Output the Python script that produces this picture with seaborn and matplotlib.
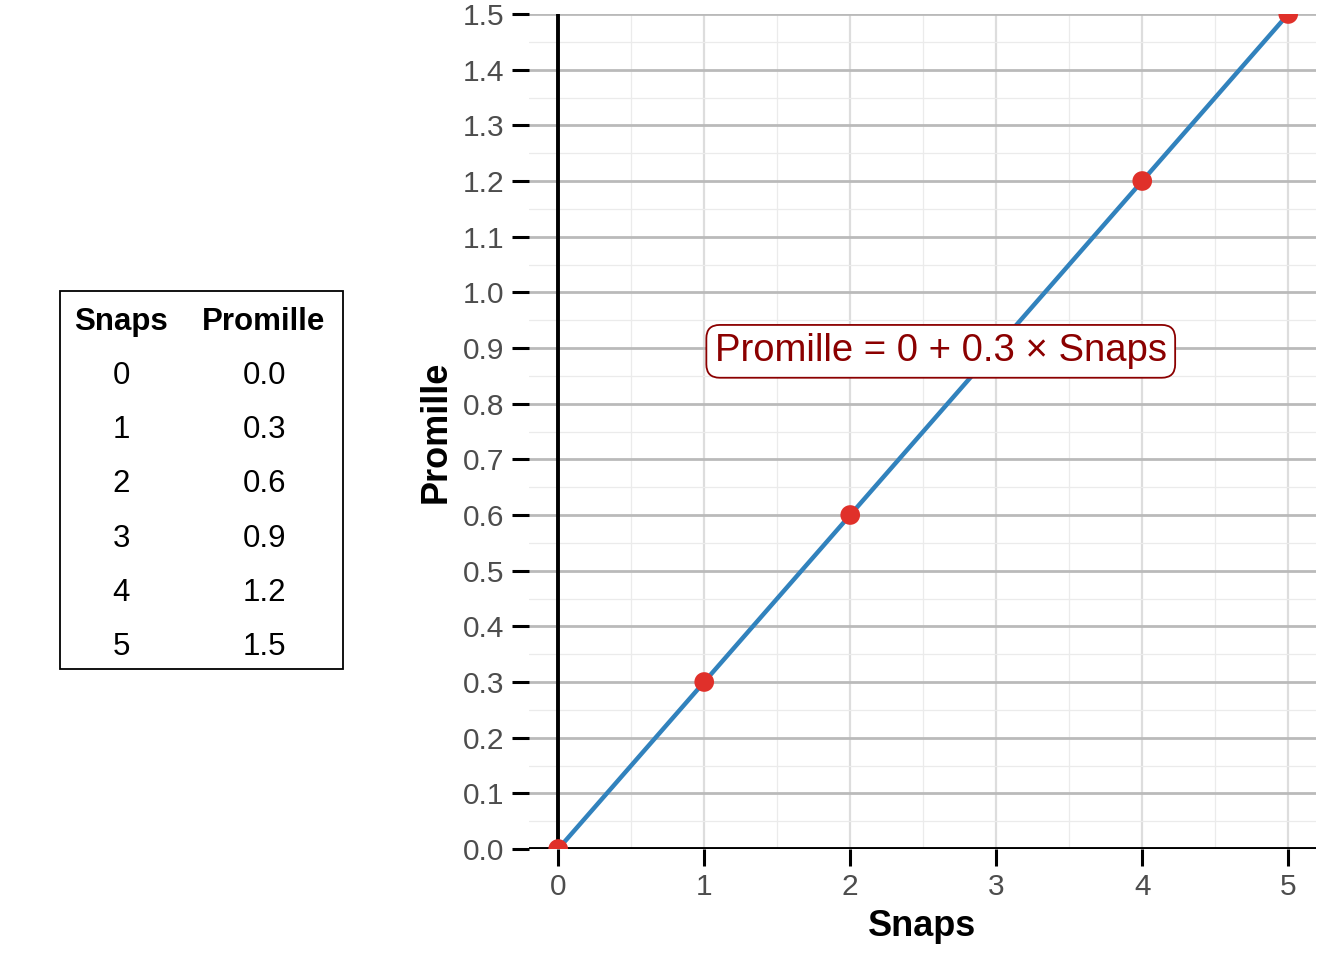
import numpy as np
import pandas as pd
import matplotlib
matplotlib.use("Agg")
import matplotlib.pyplot as plt
from matplotlib.patches import Rectangle
from matplotlib.ticker import MultipleLocator
import seaborn as sns

snaps = [0, 1, 2, 3, 4, 5]
promille = [0.0, 0.3, 0.6, 0.9, 1.2, 1.5]
intercept = 0
slope = 0.3
x_ticks = [0, 1, 2, 3, 4, 5]
y_ticks = [0.0, 0.1, 0.2, 0.3, 0.4, 0.5, 0.6, 0.7, 0.8, 0.9, 1.0, 1.1, 1.2, 1.3, 1.4, 1.5]

sns.set_theme(style="white")
plt.rcParams['font.family'] = ['Liberation Sans', 'DejaVu Sans']
plt.rcParams['text.color'] = 'black'

df = pd.DataFrame({"Snaps": snaps, "Promille": promille})

W, H = 1344, 960
fig = plt.figure(figsize=(W / 100, H / 100), dpi=100)
ax = fig.add_axes([529 / W, 1 - 849 / H, (1316 - 529) / W, (849 - 14) / H])

ax.set_xlim(-0.2, 5.19)
ax.set_ylim(0, 1.5)
ax.xaxis.set_minor_locator(MultipleLocator(0.5))
ax.yaxis.set_minor_locator(MultipleLocator(0.05))
ax.set_xticks(x_ticks)
ax.set_yticks(y_ticks)
ax.set_yticklabels([f"{v:.1f}" for v in y_ticks])
ax.grid(which="minor", color="#EBEBEB", lw=0.9)
ax.grid(which="major", axis="x", color="#DDDDDD", lw=1.6)
ax.grid(which="major", axis="y", color="#BABABA", lw=2.0)
ax.set_axisbelow(True)
for s in ax.spines.values():
    s.set_visible(False)

ax.axhline(0, color="black", lw=2.8, zorder=2)
ax.axvline(0, color="black", lw=2.8, zorder=2)

sns.lineplot(data=df, x="Snaps", y="Promille", ax=ax, color="#3182BD", lw=3.2, zorder=3)
sns.scatterplot(data=df, x="Snaps", y="Promille", ax=ax, color="#E0302A", s=200,
                edgecolor="none", zorder=4)

ax.text(2.62, 0.894, f"Promille = {intercept} + {slope} × Snaps", ha="center", va="center",
        fontsize=27.5, color="#8B0000", zorder=6,
        bbox=dict(boxstyle="round,pad=0.22,rounding_size=0.35", fc="white", ec="#8B0000", lw=1.3))

ax.tick_params(axis="both", which="major", length=12, width=2.2, color="black",
               labelsize=21.5, labelcolor="#4D4D4D", bottom=True, left=True)
ax.tick_params(axis="y", pad=6)
ax.tick_params(axis="x", pad=5)
ax.tick_params(which="minor", length=0)
ax.set_xlabel("Snaps", fontsize=26, fontweight="bold", color="black", labelpad=6)
ax.set_ylabel("Promille", fontsize=26, fontweight="bold", color="black", labelpad=6)

# table on the left
rect = Rectangle((60 / W, 1 - 669 / H), (343 - 60) / W, (669 - 291) / H,
                 transform=fig.transFigure, fill=False, ec="black", lw=1.3)
fig.add_artist(rect)
cx1, cx2 = 121 / W, 264 / W
fig.text(cx1, 1 - 322 / H, "Snaps", ha="center", va="center", fontsize=22.5,
         fontweight="bold", color="black")
fig.text(cx2, 1 - 322 / H, "Promille", ha="center", va="center", fontsize=22.5,
         fontweight="bold", color="black")
for i, (sv, pv) in enumerate(zip(snaps, promille)):
    y = 1 - (376 + i * 54.2) / H
    fig.text(cx1, y, f"{sv}", ha="center", va="center", fontsize=22.5, color="black")
    fig.text(cx2, y, f"{pv:.1f}", ha="center", va="center", fontsize=22.5, color="black")

fig.savefig("out.png", dpi=100)
